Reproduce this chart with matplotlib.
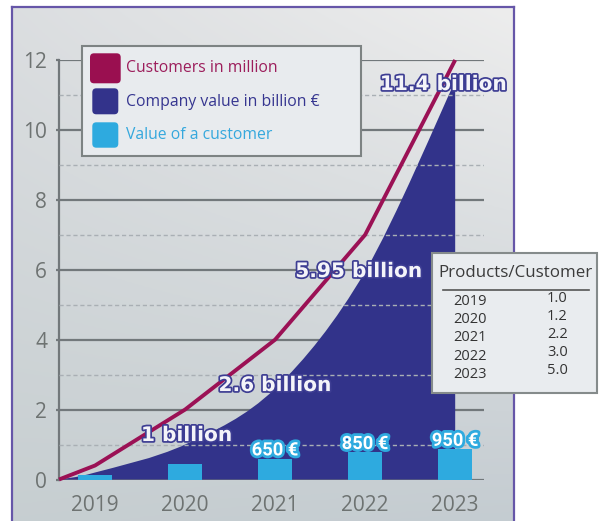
import numpy as np
import matplotlib.pyplot as plt
import matplotlib.patheffects as pe
from matplotlib.patches import Rectangle, FancyBboxPatch, PathPatch
from matplotlib.path import Path

plt.rcParams['font.family'] = ['Open Sans', 'DejaVu Sans']

years = ['2019', '2020', '2021', '2022', '2023']
customers = [0.4, 2.0, 4.0, 7.0, 12.0]          # million
company_value = [0.2, 1.0, 2.6, 5.95, 11.4]     # billion €
customer_value = [150, 500, 650, 850, 950]      # € per customer
products = [1.0, 1.2, 2.2, 3.0, 5.0]            # products per customer

W, H = 606, 521
fig = plt.figure(figsize=(W / 100, H / 100), dpi=100)
fig.patch.set_facecolor('white')

# grey gradient panel with purple frame
bg = fig.add_axes([12 / W, 0, (514 - 12) / W, (H - 7) / H])
corners = {'tl': (0.86, 0.87, 0.88), 'tr': (0.93, 0.93, 0.93),
           'bl': (0.78, 0.81, 0.82), 'br': (0.77, 0.80, 0.82)}
t = np.linspace(0, 1, 200)[None, :, None]
s = np.linspace(0, 1, 200)[:, None, None]
grad = (np.array(corners['tl']) * (1 - t) * (1 - s) + np.array(corners['tr']) * t * (1 - s)
        + np.array(corners['bl']) * (1 - t) * s + np.array(corners['br']) * t * s)
bg.imshow(grad, extent=[0, 1, 0, 1], aspect='auto', origin='upper')
bg.set_xticks([])
bg.set_yticks([])
for side in ['left', 'top', 'right']:
    bg.spines[side].set_color('#6656a8')
    bg.spines[side].set_linewidth(1.6)
bg.spines['bottom'].set_visible(False)

# main chart
ax = fig.add_axes([59 / W, (H - 479.5) / H, (484 - 59) / W, 419.5 / H])
ax.patch.set_alpha(0)
x0, x1 = -0.4, 4.32
ax.set_xlim(x0, x1)
ax.set_ylim(0, 12)
xs = np.arange(len(years))

ax.hlines(range(0, 13, 2), x0, x1, color='#72787b', lw=1.6, zorder=1)
ax.hlines(range(1, 12, 2), x0, x1, color='#a9afb4', lw=1.0,
          linestyles=(0, (3, 2)), zorder=3)

# company value as a smooth filled area (Catmull-Rom through the points)
pts = np.array([[x0, 0.0]] + [[x, v] for x, v in zip(xs, company_value)])
ext = np.vstack([pts[0], pts, pts[-1]])
verts = [tuple(pts[0])]
codes = [Path.MOVETO]
for i in range(1, len(ext) - 2):
    p0, p1, p2, p3 = ext[i - 1], ext[i], ext[i + 1], ext[i + 2]
    verts += [tuple(p1 + (p2 - p0) / 6), tuple(p2 - (p3 - p1) / 6), tuple(p2)]
    codes += [Path.CURVE4] * 3
verts += [(xs[-1], 0.0), (x0, 0.0), (x0, 0.0)]
codes += [Path.LINETO, Path.LINETO, Path.CLOSEPOLY]
ax.add_patch(PathPatch(Path(verts, codes), fc='#32338a', ec='none', zorder=2))

ax.bar(xs, [v / 1100 for v in customer_value], width=0.38, color='#2eaadf', zorder=4)

ax.plot(np.r_[x0, xs], np.r_[0, customers], color='#9b1155', lw=2.8,
        solid_capstyle='butt', zorder=5, clip_on=False)

for side in ['top', 'right', 'bottom']:
    ax.spines[side].set_visible(False)
ax.spines['left'].set_color('#72787b')
ax.spines['left'].set_linewidth(1.6)
ax.set_yticks(range(0, 13, 2))
ax.set_xticks(xs, years)
ax.tick_params(axis='y', length=2.5, width=1.6, color='#72787b', pad=6,
               labelsize=15, labelcolor='#6e7372')
ax.tick_params(axis='x', length=0, pad=11, labelsize=15, labelcolor='#6e7372')

# company value labels
billion_dx = [0.02, 0.0, -0.07, -0.13]
billion_dy = [0.10, -0.07, -0.16, -0.26]
for i, v in enumerate(company_value[1:], start=1):
    ax.text(i + billion_dx[i - 1], v + billion_dy[i - 1], f'{v:g} billion',
            family='DejaVu Sans', weight='bold', fontsize=14.5, color='#f4f4f9',
            ha='center', va='baseline', zorder=6,
            path_effects=[pe.withStroke(linewidth=2.5, foreground='#3d3d93')])

# value per customer labels
for i in range(2, len(years)):
    ax.annotate(f'{customer_value[i]} €', (xs[i], customer_value[i] / 1100),
                xytext=(0, 2.5), textcoords='offset points', ha='center', va='baseline',
                family='Roboto', weight='bold', fontsize=13.2, color='white', zorder=6,
                path_effects=[pe.withStroke(linewidth=4, foreground='#2eaadf')])

# overlay in pixel coordinates for legend and table
ov = fig.add_axes([0, 0, 1, 1], zorder=5)
ov.set_xlim(0, W)
ov.set_ylim(H, 0)
ov.axis('off')
ov.patch.set_alpha(0)

ov.add_patch(Rectangle((82, 46), 279, 110, fc='#e8ebee', ec='#7d8383', lw=1.5))
legend = [('Customers in million', '#9a0f50', '#9c1d5b', (90, 53.3, 30.7, 30), 68.3),
          ('Company value in billion €', '#33338b', '#363690', (92.3, 88.3, 26, 26), 101.7),
          ('Value of a customer', '#2eaadf', '#35a8dd', (92.3, 122.3, 26, 25.4), 135)]
for label, fc, tc, (bx, by, bw, bh), ty in legend:
    ov.add_patch(FancyBboxPatch((bx, by), bw, bh, boxstyle='round,pad=0,rounding_size=4',
                                fc=fc, ec='none'))
    ov.text(126, ty, label, color=tc, fontsize=11.3, va='center', ha='left')

ov.add_patch(Rectangle((432, 253), 165, 140, fc='#e9ecef', ec='#858b8b', lw=1.5))
ov.text(515, 273, 'Products/Customer', fontsize=12.2, color='#3b3b3b',
        ha='center', va='center')
ov.plot([443, 589], [290, 290], color='#555555', lw=1.2)
for i, (yr, p) in enumerate(zip(years, products)):
    ov.text(470, 301.7 + i * 18.1, yr, fontsize=10.5, color='#333333',
            ha='center', va='center')
    ov.text(557.5, 299 + i * 17.8, f'{p:.1f}', fontsize=10.5, color='#333333',
            ha='center', va='center')

fig.savefig('out.png', dpi=100, facecolor='white')
